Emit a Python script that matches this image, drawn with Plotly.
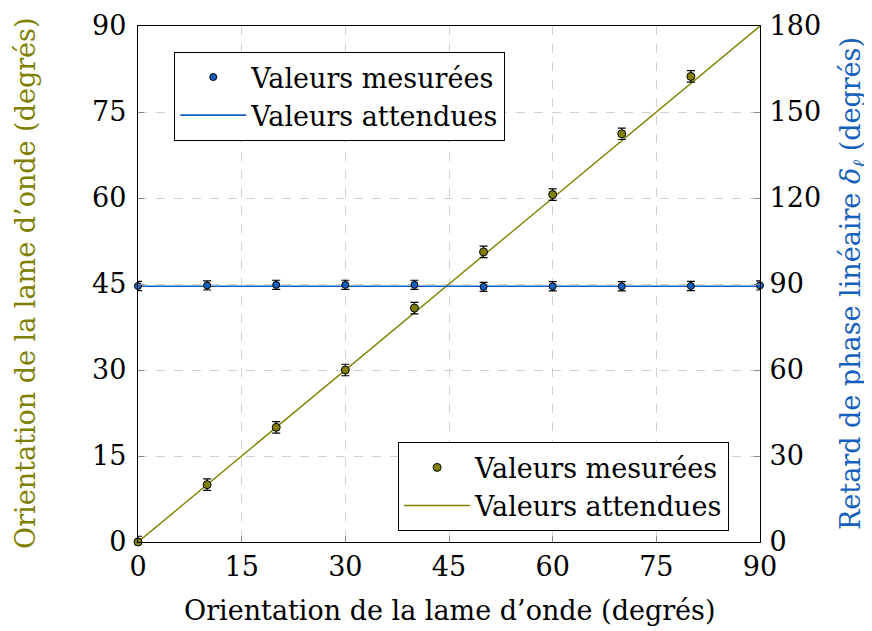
import plotly.graph_objects as go

# Data
orient_meas = [0, 10, 20, 30, 40, 50, 60, 70, 80]
orient_vals = [0, 10, 20, 30, 40.8, 50.6, 60.6, 71.2, 81.2]
orient_err = [1, 1, 1, 1, 1, 1, 1, 1, 1]
orient_exp_x = [0, 90]
orient_exp_y = [0, 90]

delta_x = [0, 10, 20, 30, 40, 50, 60, 70, 80, 90]
delta_vals = [89.3, 89.5, 89.7, 89.7, 89.7, 89.0, 89.2, 89.2, 89.3, 89.5]
delta_err = [1.6, 1.6, 1.6, 1.6, 1.6, 1.6, 1.6, 1.6, 1.6, 1.6]
delta_exp_x = [0, 90]
delta_exp_y = [89.2, 89.2]

x_ticks = [0, 15, 30, 45, 60, 75, 90]
y_ticks = [0, 15, 30, 45, 60, 75, 90]
y2_ticks = [0, 30, 60, 90, 120, 150, 180]

x_title = "Orientation de la lame d’onde (degrés)"
y_title = "Orientation de la lame d’onde (degrés)"
y2_title = "Retard de phase linéaire <i>δ</i><sub><i>ℓ</i></sub> (degrés)"

OLIVE = "#808000"
BLUE = "#1560BD"
FONT = "DejaVu Serif"
FS = 27

fig = go.Figure()

fig.add_trace(go.Scatter(
    x=delta_exp_x, y=delta_exp_y, mode="lines", yaxis="y2",
    line=dict(color=BLUE, width=1.6), name="Valeurs attendues",
    legend="legend", legendrank=2))
fig.add_trace(go.Scatter(
    x=delta_x, y=delta_vals, mode="markers", yaxis="y2",
    marker=dict(color=BLUE, size=7, line=dict(color="black", width=1)),
    error_y=dict(type="data", array=delta_err, color="black", thickness=1.2, width=4),
    name="Valeurs mesurées", legend="legend", legendrank=1, cliponaxis=False))

fig.add_trace(go.Scatter(
    x=orient_exp_x, y=orient_exp_y, mode="lines",
    line=dict(color=OLIVE, width=1.4), name="Valeurs attendues",
    legend="legend2", legendrank=2))
fig.add_trace(go.Scatter(
    x=orient_meas, y=orient_vals, mode="markers",
    marker=dict(color=OLIVE, size=8, line=dict(color="black", width=1)),
    error_y=dict(type="data", array=orient_err, color="black", thickness=1.2, width=4),
    name="Valeurs mesurées", legend="legend2", legendrank=1, cliponaxis=False))

axis_font = dict(family=FONT, size=FS, color="black")
grid = dict(showgrid=True, gridcolor="#d0d0d0", griddash="dash", gridwidth=1.2)

fig.update_layout(
    width=864, height=623,
    margin=dict(l=130, r=112, t=18, b=89),
    plot_bgcolor="white", paper_bgcolor="white",
    font=dict(family=FONT, size=FS, color="black"),
    showlegend=True,
    xaxis=dict(range=[0, 90], tickvals=x_ticks,
               tickfont=axis_font, showline=True, linecolor="black", linewidth=1.3,
               mirror=True, ticks="inside", ticklen=6, tickcolor="#888888",
               zeroline=False, automargin=False, **grid),
    yaxis=dict(range=[0, 90], tickvals=y_ticks,
               tickfont=axis_font, showline=True, linecolor="black", linewidth=1.3,
               ticks="inside", ticklen=6, tickcolor="#888888", zeroline=False,
               automargin=False, ticklabelstandoff=5, **grid),
    yaxis2=dict(range=[0, 180], tickvals=y2_ticks,
                overlaying="y", side="right", anchor="x",
                tickfont=axis_font, showline=True, linecolor="black", linewidth=1.3,
                ticks="inside", ticklen=6, tickcolor="#888888", zeroline=False,
                showgrid=False, automargin=False, ticklabelstandoff=3),
    legend=dict(x=0.058, y=0.95, xanchor="left", yanchor="top",
                bgcolor="white", bordercolor="black", borderwidth=1.2,
                font=dict(family=FONT, size=FS, color="black"),
                traceorder="normal", itemwidth=66),
    legend2=dict(x=0.95, y=0.021, xanchor="right", yanchor="bottom",
                 bgcolor="white", bordercolor="black", borderwidth=1.2,
                 font=dict(family=FONT, size=FS, color="black"),
                 traceorder="normal", itemwidth=66),
    annotations=[
        dict(text=x_title, xref="paper", yref="paper", x=0.5, y=0,
             xanchor="center", yanchor="middle", yshift=-68, showarrow=False,
             font=dict(family=FONT, size=FS, color="black")),
        dict(text=y_title, xref="paper", yref="paper", x=0, y=0.5,
             xanchor="center", yanchor="middle", xshift=-113, textangle=-90,
             showarrow=False, font=dict(family=FONT, size=FS, color=OLIVE)),
        dict(text=y2_title, xref="paper", yref="paper", x=1, y=0.5,
             xanchor="center", yanchor="middle", xshift=92, textangle=-90,
             showarrow=False, font=dict(family=FONT, size=FS, color=BLUE)),
    ],
)

fig.write_html("out.html")
